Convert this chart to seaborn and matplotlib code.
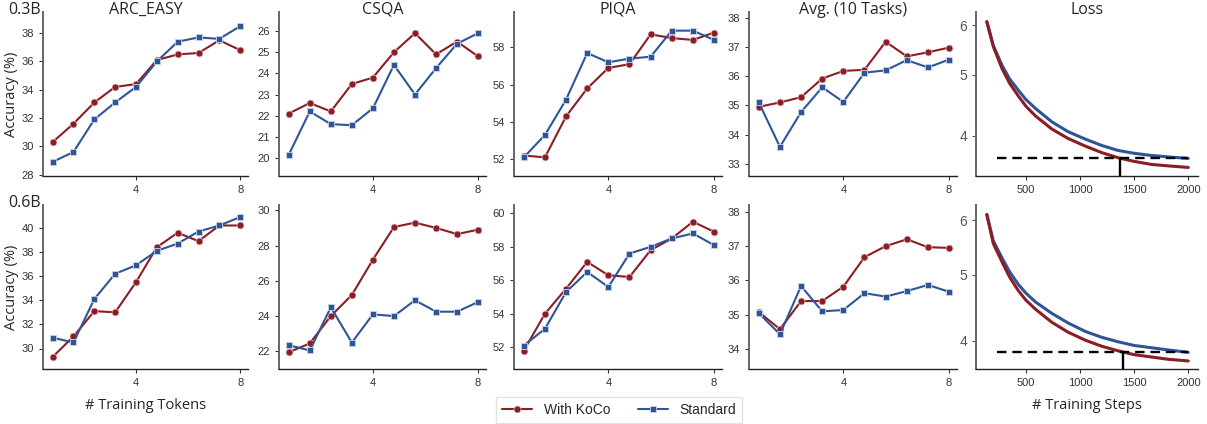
import matplotlib
matplotlib.use("Agg")
import matplotlib.pyplot as plt
import seaborn as sns

# -----------------------------
# data
# -----------------------------
tokens = [0.8, 1.6, 2.4, 3.2, 4.0, 4.8, 5.6, 6.4, 7.2, 8.0]
token_ticks = [4, 8]

arc_03_koco = [30.3, 31.6, 33.1, 34.2, 34.4, 36.1, 36.5, 36.6, 37.5, 36.8]
arc_03_std = [28.9, 29.6, 31.9, 33.1, 34.2, 36.0, 37.4, 37.7, 37.6, 38.5]
csqa_03_koco = [22.1, 22.6, 22.2, 23.5, 23.8, 25.0, 25.9, 24.9, 25.5, 24.8]
csqa_03_std = [20.15, 22.2, 21.6, 21.55, 22.35, 24.4, 23.0, 24.25, 25.4, 25.9]
piqa_03_koco = [52.2, 52.1, 54.3, 55.8, 56.9, 57.1, 58.7, 58.5, 58.4, 58.8]
piqa_03_std = [52.1, 53.3, 55.2, 57.7, 57.2, 57.4, 57.5, 58.9, 58.9, 58.4]
avg_03_koco = [34.95, 35.1, 35.28, 35.92, 36.18, 36.22, 37.18, 36.68, 36.82, 36.98]
avg_03_std = [35.1, 33.58, 34.77, 35.62, 35.12, 36.12, 36.2, 36.55, 36.3, 36.57]

arc_06_koco = [29.3, 31.0, 33.1, 33.0, 35.5, 38.4, 39.6, 38.9, 40.2, 40.2]
arc_06_std = [30.9, 30.5, 34.1, 36.2, 36.9, 38.1, 38.7, 39.7, 40.2, 40.9]
csqa_06_koco = [21.95, 22.45, 24.0, 25.2, 27.2, 29.05, 29.3, 29.0, 28.65, 28.9]
csqa_06_std = [22.35, 22.05, 24.5, 22.5, 24.1, 24.0, 24.9, 24.25, 24.25, 24.8]
piqa_06_koco = [51.8, 54.0, 55.5, 57.1, 56.3, 56.2, 57.8, 58.5, 59.5, 58.9]
piqa_06_std = [52.1, 53.1, 55.3, 56.5, 55.6, 57.6, 58.0, 58.5, 58.8, 58.1]
avg_06_koco = [35.08, 34.58, 35.4, 35.4, 35.82, 36.68, 37.0, 37.2, 36.97, 36.95]
avg_06_std = [35.05, 34.43, 35.84, 35.1, 35.14, 35.63, 35.53, 35.69, 35.87, 35.67]

loss_steps = [140, 200, 280, 350, 430, 500, 590, 740, 890, 1050, 1200, 1350, 1500, 1660, 1820, 2000]
loss_03_koco = [6.08, 5.55, 5.12, 4.85, 4.63, 4.46, 4.30, 4.10, 3.96, 3.85, 3.76, 3.69, 3.64, 3.60, 3.58, 3.56]
loss_03_std = [6.08, 5.57, 5.18, 4.93, 4.73, 4.57, 4.42, 4.21, 4.06, 3.95, 3.86, 3.79, 3.75, 3.72, 3.70, 3.68]
loss_06_koco = [6.12, 5.55, 5.22, 4.96, 4.74, 4.59, 4.45, 4.26, 4.12, 4.01, 3.93, 3.87, 3.82, 3.79, 3.76, 3.74]
loss_06_std = [6.12, 5.60, 5.29, 5.05, 4.84, 4.70, 4.56, 4.39, 4.25, 4.13, 4.05, 3.99, 3.94, 3.91, 3.88, 3.85]

loss_03_target = 3.68
loss_03_match_step = 1370
loss_06_target = 3.85
loss_06_match_step = 1400
loss_ticks = [4, 5, 6]
step_ticks = [500, 1000, 1500, 2000]

titles = ["ARC_EASY", "CSQA", "PIQA", "Avg. (10 Tasks)", "Loss"]
row_labels = ["0.3B", "0.6B"]

KOCO = "#8b1d24"
STD = "#2f5597"

sns.set_theme(style="ticks")
plt.rcParams["font.family"] = ["Liberation Sans", "DejaVu Sans"]
label_font = ["Open Sans", "DejaVu Sans"]

fig = plt.figure(figsize=(12.07, 4.24), dpi=100)

W, H = 1207, 424
lefts = [43, 279, 514, 749, 976]
widths = [205, 207, 208, 208, 222]
row_y = [(12, 176), (205, 369)]

acc_rows = [
    [(arc_03_koco, arc_03_std, (27.9, 39.5), [28, 30, 32, 34, 36, 38]),
     (csqa_03_koco, csqa_03_std, (19.15, 26.9), [20, 21, 22, 23, 24, 25, 26]),
     (piqa_03_koco, piqa_03_std, (51.1, 59.9), [52, 54, 56, 58]),
     (avg_03_koco, avg_03_std, (32.58, 38.2), [33, 34, 35, 36, 37, 38])],
    [(arc_06_koco, arc_06_std, (28.3, 41.9), [30, 32, 34, 36, 38, 40]),
     (csqa_06_koco, csqa_06_std, (21.0, 30.3), [22, 24, 26, 28, 30]),
     (piqa_06_koco, piqa_06_std, (50.7, 60.5), [52, 54, 56, 58, 60]),
     (avg_06_koco, avg_06_std, (33.42, 38.2), [34, 35, 36, 37, 38])],
]
loss_rows = [
    (loss_03_koco, loss_03_std, (3.45, 6.3), loss_03_target, loss_03_match_step),
    (loss_06_koco, loss_06_std, (3.64, 6.32), loss_06_target, loss_06_match_step),
]

handles = None
for r, (y0, y1) in enumerate(row_y):
    axes = []
    for c in range(5):
        ax = fig.add_axes([lefts[c] / W, 1 - y1 / H, widths[c] / W, (y1 - y0) / H])
        axes.append(ax)
        sns.despine(ax=ax)
        ax.spines["left"].set_color("#666666")
        ax.spines["left"].set_linewidth(1.4)
        ax.spines["bottom"].set_color("#222222")
        ax.spines["bottom"].set_linewidth(1.0)
        ax.tick_params(labelsize=8, colors="#333333", length=3, width=0.8)

    for c, (koco, std, ylim, yticks) in enumerate(acc_rows[r]):
        ax = axes[c]
        sns.lineplot(x=tokens, y=koco, ax=ax, color=KOCO, marker="o", markersize=5,
                     linewidth=1.5, markeredgecolor="#e8c9cb", markeredgewidth=0.5,
                     label="With KoCo", legend=False)
        sns.lineplot(x=tokens, y=std, ax=ax, color=STD, marker="s", markersize=5,
                     linewidth=1.5, markeredgecolor="#c9d4ea", markeredgewidth=0.6,
                     label="Standard", legend=False)
        ax.set_xlim(0.43, 8.3)
        ax.set_ylim(*ylim)
        ax.set_xticks(token_ticks)
        ax.set_yticks(yticks)
        ax.set_xlabel("")
        ax.set_ylabel("")
        if handles is None:
            handles, labels = ax.get_legend_handles_labels()

    koco, std, ylim, target, match_step = loss_rows[r]
    ax = axes[4]
    sns.lineplot(x=loss_steps, y=std, ax=ax, color=STD, linewidth=2.2)
    sns.lineplot(x=loss_steps, y=koco, ax=ax, color=KOCO, linewidth=2.2)
    ax.set_yscale("log")
    ax.set_ylim(*ylim)
    ax.set_xlim(40, 2090)
    ax.hlines(target, 232, 2000, colors="black", linestyles=(0, (4, 2.5)), linewidth=1.7, zorder=5)
    ax.vlines(match_step, ylim[0], target, colors="black", linewidth=1.7, zorder=5)
    ax.set_yticks(loss_ticks)
    ax.set_yticklabels([str(t) for t in loss_ticks])
    ax.yaxis.set_minor_locator(matplotlib.ticker.NullLocator())
    ax.set_xticks(step_ticks)
    ax.tick_params(axis="y", labelsize=10, colors="#555555")
    ax.set_xlabel("")
    ax.set_ylabel("")

    if r == 0:
        for c in range(5):
            fig.text((lefts[c] + widths[c] / 2) / W, 1 - 10 / H, titles[c],
                     fontsize=11.5, family=label_font, ha="center", va="center")
    else:
        axes[0].set_xlabel("# Training Tokens", fontsize=10.5, family=label_font,
                           fontweight="medium", labelpad=7)
        axes[4].set_xlabel("# Training Steps", fontsize=10.5, family=label_font,
                           fontweight="medium", labelpad=7)

    axes[0].set_ylabel("Accuracy (%)", fontsize=10.5, family=label_font)
    axes[0].yaxis.set_label_coords(-0.115, 0.5)
    fig.text(8 / W, 1 - (y0 - 2) / H, row_labels[r], fontsize=11.5, family=label_font,
             ha="left", va="center")

fig.legend(handles, labels, loc="center", bbox_to_anchor=(619 / W, 1 - 410 / H),
           ncol=2, fontsize=10, frameon=True, edgecolor="#dddddd", fancybox=False,
           handlelength=2.2, columnspacing=2.0, borderpad=0.4)

fig.savefig("out.png", dpi=100)
